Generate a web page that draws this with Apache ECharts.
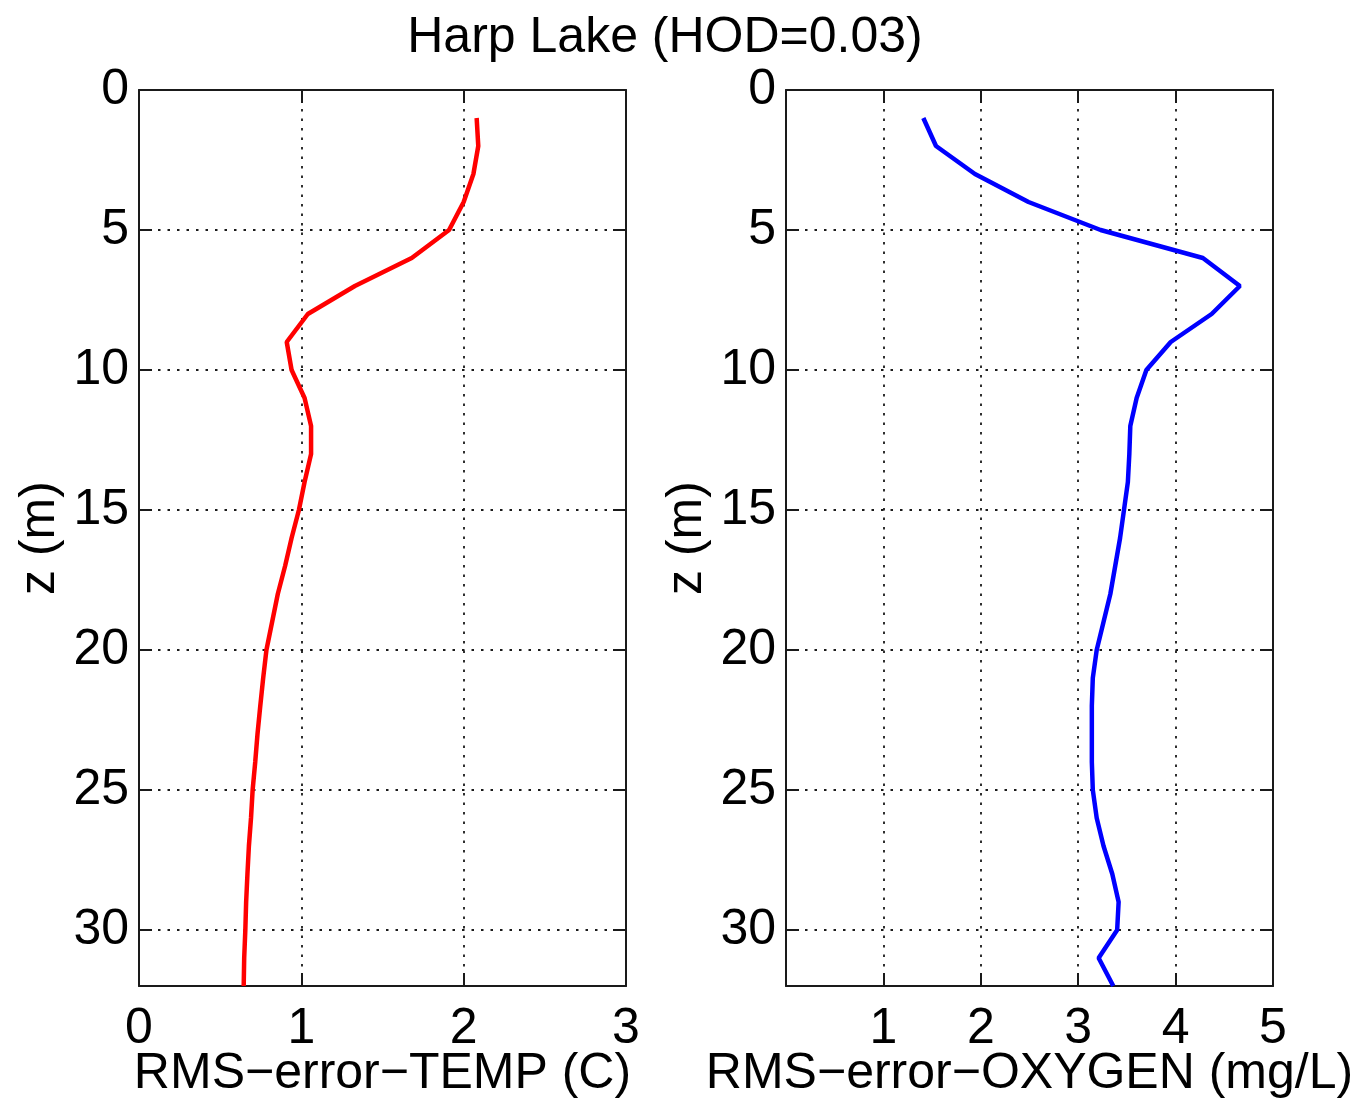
<!DOCTYPE html>
<html>
<head>
<meta charset="utf-8">
<script src="https://cdn.jsdelivr.net/npm/echarts@6/dist/echarts.min.js"></script>
<style>
html,body{margin:0;padding:0;background:#fff;}
#chart{width:1369px;height:1103px;}
</style>
</head>
<body>
<div id="chart"></div>
<script>
const titleText = 'Harp Lake (HOD=0.03)';
const depths = [1,2,3,4,5,6,7,8,9,10,11,12,13,14,15,16,17,18,19,20,21,22,23,24,25,26,27,28,29,30,31,32];
const tempErr = [2.08,2.09,2.06,2.00,1.91,1.68,1.33,1.04,0.91,0.94,1.02,1.06,1.06,1.02,0.985,0.94,0.90,0.855,0.82,0.785,0.765,0.747,0.73,0.716,0.70,0.69,0.677,0.668,0.66,0.655,0.648,0.645];
const oxyErr = [1.41,1.54,1.94,2.49,3.23,4.28,4.66,4.37,3.95,3.70,3.60,3.535,3.525,3.51,3.47,3.43,3.38,3.33,3.26,3.19,3.15,3.14,3.14,3.14,3.15,3.19,3.26,3.35,3.415,3.40,3.21,3.36];
const tempTicks = [0,1,2,3];
const oxyTicks = [0,1,2,3,4,5];
const depthTicks = [0,5,10,15,20,25,30];
const tempName = 'RMS\u2212error\u2212TEMP (C)';
const oxyName = 'RMS\u2212error\u2212OXYGEN (mg/L)';
const depthName = 'z (m)';

const FONT = "'Liberation Sans', Arial, sans-serif";
const FS = 50;
const lineCol = '#1a1a1a';
const gridDash = [2.5, 7];

function xMain(gi, ticks, name, hideMin) {
  return {
    type: 'value', gridIndex: gi, position: 'bottom',
    min: ticks[0], max: ticks[ticks.length - 1], interval: 1,
    name: name, nameLocation: 'middle', nameGap: 63, nameMoveOverlap: false,
    nameTextStyle: {fontFamily: FONT, fontSize: FS, color: '#000'},
    axisLine: {show: true, onZero: false, lineStyle: {color: lineCol, width: 2}},
    axisTick: {show: true, inside: true, length: 13, lineStyle: {color: lineCol, width: 2}},
    axisLabel: {show: true, showMinLabel: !hideMin, margin: 18, fontFamily: FONT, fontSize: FS, color: '#000'},
    splitLine: {show: true, lineStyle: {color: lineCol, width: 1.8, type: gridDash}}
  };
}
function xTop(gi, ticks) {
  return {
    type: 'value', gridIndex: gi, position: 'top',
    min: ticks[0], max: ticks[ticks.length - 1], interval: 1,
    axisLine: {show: true, onZero: false, lineStyle: {color: lineCol, width: 2}},
    axisTick: {show: true, inside: true, length: 13, lineStyle: {color: lineCol, width: 2}},
    axisLabel: {show: false}, splitLine: {show: false}
  };
}
function yMain(gi) {
  return {
    type: 'value', gridIndex: gi, position: 'left', inverse: true,
    min: depthTicks[0], max: 32, interval: 5,
    name: depthName, nameLocation: 'middle', nameGap: 74, nameMoveOverlap: false,
    nameTextStyle: {fontFamily: FONT, fontSize: FS, color: '#000'},
    axisLine: {show: true, onZero: false, lineStyle: {color: lineCol, width: 2}},
    axisTick: {show: true, inside: true, length: 13, lineStyle: {color: lineCol, width: 2}},
    axisLabel: {show: true, showMaxLabel: false, margin: 10, fontFamily: FONT, fontSize: FS, color: '#000',
      formatter: v => (depthTicks.indexOf(v) >= 0 ? String(v) : '')},
    splitLine: {show: true, lineStyle: {color: lineCol, width: 1.8, type: gridDash}}
  };
}
function yRight(gi) {
  return {
    type: 'value', gridIndex: gi, position: 'right', inverse: true,
    min: depthTicks[0], max: 32, interval: 5,
    axisLine: {show: true, onZero: false, lineStyle: {color: lineCol, width: 2}},
    axisTick: {show: true, inside: true, length: 13, lineStyle: {color: lineCol, width: 2}},
    axisLabel: {show: false}, splitLine: {show: false}
  };
}

const chart = echarts.init(document.getElementById('chart'), null, {renderer: 'canvas'});
chart.setOption({
  backgroundColor: '#fff',
  animation: false,
  title: {
    text: titleText, left: 660, top: 8, textAlign: 'center',
    textStyle: {fontFamily: FONT, fontSize: FS, fontWeight: 'normal', color: '#000'}
  },
  grid: [
    {left: 139, top: 90, width: 487, height: 896, containLabel: false, outerBoundsMode: 'none'},
    {left: 786, top: 90, width: 487, height: 896, containLabel: false, outerBoundsMode: 'none'}
  ],
  xAxis: [
    xMain(0, tempTicks, tempName, false),
    xMain(1, oxyTicks, oxyName, true),
    xTop(0, tempTicks),
    xTop(1, oxyTicks)
  ],
  yAxis: [yMain(0), yMain(1), yRight(0), yRight(1)],
  series: [
    {
      type: 'line', xAxisIndex: 0, yAxisIndex: 0, showSymbol: false, symbol: 'none',
      lineStyle: {color: '#ff0000', width: 4.5}, itemStyle: {color: '#ff0000'},
      data: depths.map((d, i) => [tempErr[i], d])
    },
    {
      type: 'line', xAxisIndex: 1, yAxisIndex: 1, showSymbol: false, symbol: 'none',
      lineStyle: {color: '#0000ff', width: 4.5}, itemStyle: {color: '#0000ff'},
      data: depths.map((d, i) => [oxyErr[i], d])
    }
  ]
});
</script>
</body>
</html>
